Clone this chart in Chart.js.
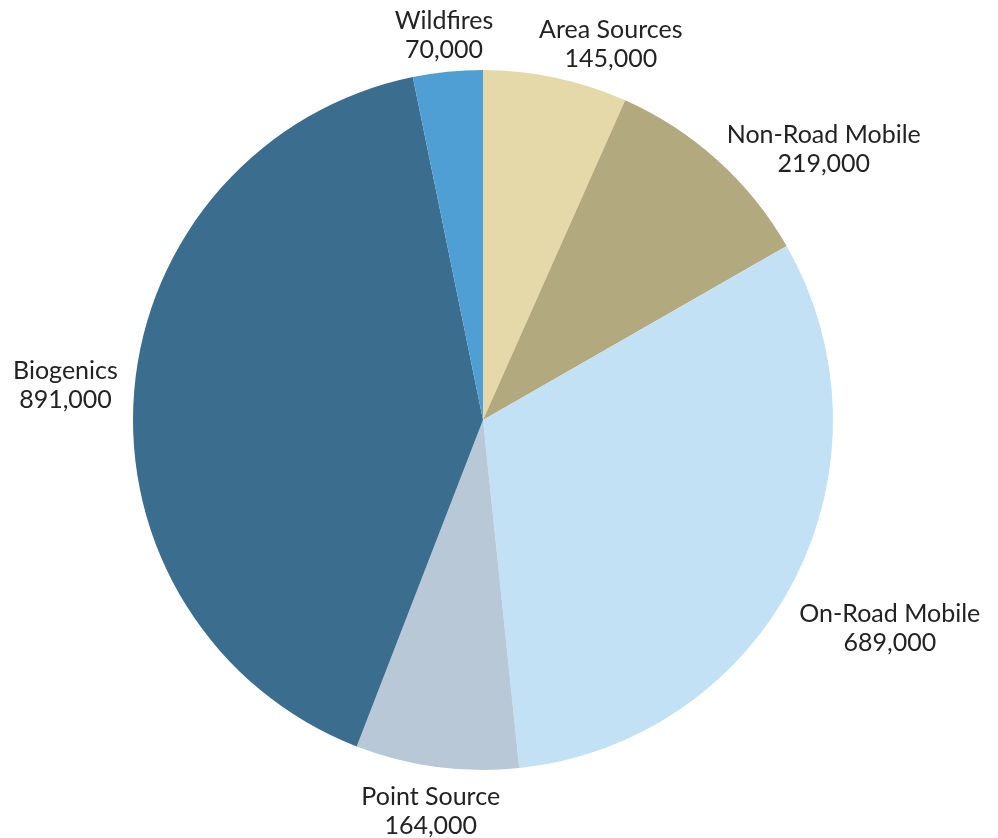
<!DOCTYPE html>
<html>
<head>
<meta charset="utf-8">
<script src="https://cdn.jsdelivr.net/npm/chart.js@4/dist/chart.umd.min.js"></script>
<style>
  html, body { margin: 0; padding: 0; background: #fff; }
  #wrap { width: 998px; height: 838px; }
</style>
</head>
<body>
<div id="wrap"><canvas id="pie"></canvas></div>
<script>
// emission sources, clockwise from 12 o'clock
const sources = ['Area Sources', 'Non-Road Mobile', 'On-Road Mobile', 'Point Source', 'Biogenics', 'Wildfires'];
const tons = [145000, 219000, 689000, 164000, 891000, 70000];

const sliceColors = ['#e5d9aa', '#b2a97e', '#c3e1f5', '#b8c8d6', '#3b6d8e', '#4f9fd5'];

// label placement: extra distance past the rim and angle nudge (deg)
const labelGap = [47, 85, 107, 45, 69, 37];
const labelTurn = [6.8, 9.5, 0, 0, 0, 0];

const fmt = (v) => v.toLocaleString('en-US');

const outsideLabels = {
  id: 'outsideLabels',
  afterDatasetsDraw(chart) {
    const ctx = chart.ctx;
    const meta = chart.getDatasetMeta(0);
    ctx.save();
    ctx.font = '25px Lato, "Open Sans", sans-serif';
    ctx.fillStyle = '#222';
    ctx.textAlign = 'center';
    ctx.textBaseline = 'middle';
    meta.data.forEach((arc, i) => {
      const { x, y, startAngle, endAngle, outerRadius } = arc.getProps(
        ['x', 'y', 'startAngle', 'endAngle', 'outerRadius'], true);
      const mid = (startAngle + endAngle) / 2 + labelTurn[i] * Math.PI / 180;
      const d = outerRadius + labelGap[i];
      const cx = x + Math.cos(mid) * d;
      const cy = y + Math.sin(mid) * d;
      ctx.fillText(sources[i], cx, cy - 14.5);
      ctx.fillText(fmt(tons[i]), cx, cy + 14.5);
    });
    ctx.restore();
  }
};

new Chart(document.getElementById('pie'), {
  type: 'pie',
  data: {
    labels: sources,
    datasets: [{
      data: tons,
      backgroundColor: sliceColors,
      borderWidth: 0,
    }],
  },
  options: {
    responsive: true,
    maintainAspectRatio: false,
    animation: false,
    layout: { padding: { left: 133, right: 165, top: 70, bottom: 68 } },
    plugins: {
      legend: { display: false },
      tooltip: { enabled: false },
    },
  },
  plugins: [outsideLabels],
});
</script>
</body>
</html>
